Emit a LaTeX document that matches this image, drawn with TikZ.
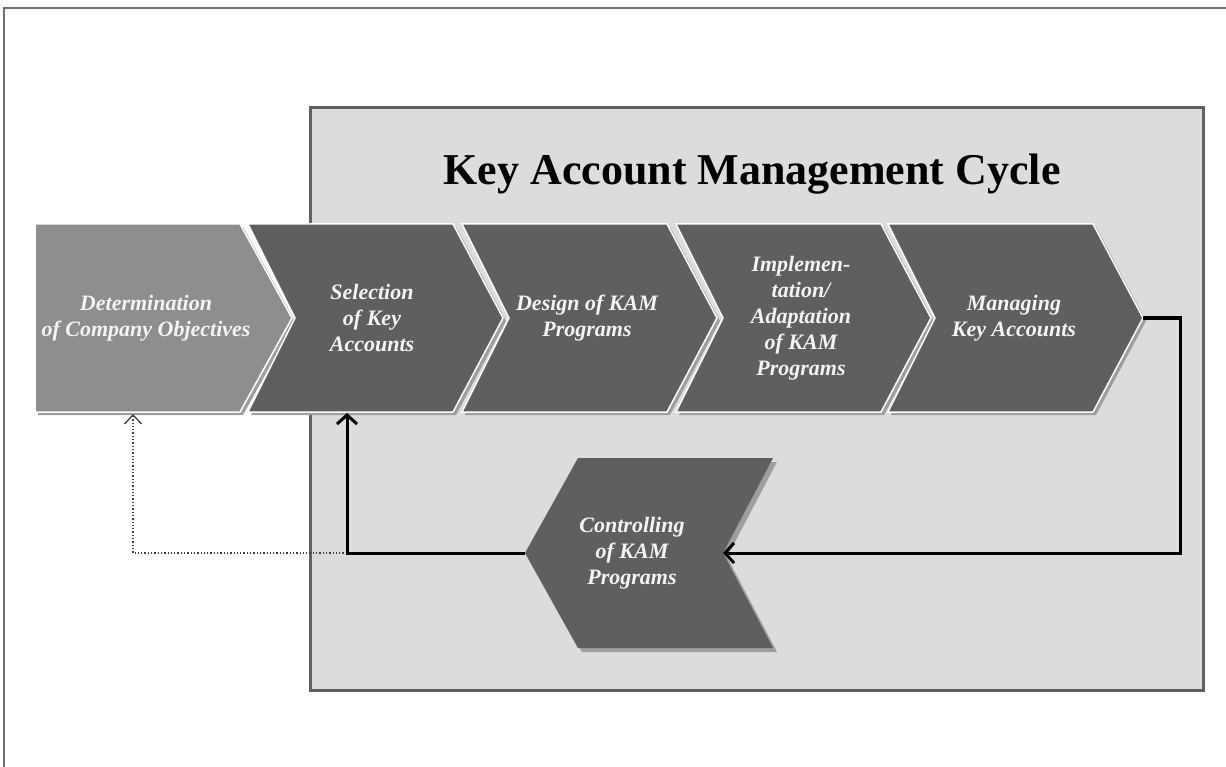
\documentclass[tikz,border=0pt]{standalone}
\usepackage{fontspec}
\setmainfont{Liberation Serif}
\usetikzlibrary{arrows.meta}
\definecolor{boxgray}{HTML}{DCDCDC}
\definecolor{framegray}{HTML}{606060}
\definecolor{outergray}{HTML}{707070}
\definecolor{chev}{HTML}{5F5F5F}
\definecolor{chevlight}{HTML}{8E8E8E}
\definecolor{shad}{HTML}{9E9E9E}
\definecolor{txt}{HTML}{F4F4F4}
\newcommand\kamchev[2]{%
  \fill[shad] (#1+3,227) -- (#1+208,227) -- (#1+258,321) -- (#1+208,415) -- (#1+3,415) -- (#1+50,321) -- cycle;
  \draw[fill=#2, draw=white, line width=1.5pt] (#1,224) -- (#1+205,224) -- (#1+255,318) -- (#1+205,412) -- (#1,412) -- (#1+47,318) -- cycle;
}
\begin{document}
\begin{tikzpicture}[x=1pt,y=-1pt,
  lbl/.style={text=txt, font=\fontsize{22}{26}\selectfont\bfseries\itshape, align=center},
  flow/.style={line width=3pt, -{Straight Barb[length=9pt,width=20pt]}},
  feedback/.style={line width=1.3pt, dotted, draw=black!75, -{Straight Barb[length=9pt,width=17pt]}},
]
\useasboundingbox (0,0) rectangle (1226,767);
\fill[white] (0,0) rectangle (1226,767);
% outer frame
\draw[outergray, line width=2pt] (4,767) -- (4,8) -- (1226,8);
% cycle box
\draw[fill=boxgray, draw=framegray, line width=3pt] (310,108) rectangle (1203,690);
\node[font=\fontsize{44}{52}\selectfont\bfseries] (title) at (752,174) {Key Account Management Cycle};
% first chevron (flat left)
\fill[shad] (38,227) -- (243,227) -- (295,321) -- (243,415) -- (38,415) -- cycle;
\draw[fill=chevlight, draw=white, line width=1.5pt] (35,224) -- (240,224) -- (292,318) -- (240,412) -- (35,412) -- cycle;
% process chevrons
\kamchev{248}{chev}
\kamchev{462}{chev}
\kamchev{676}{chev}
\kamchev{888}{chev}
% controlling chevron (points left)
\fill[shad] (582,462) -- (777,462) -- (727,557) -- (777,652) -- (582,652) -- (529,557) -- cycle;
\fill[chev] (578,458) -- (773,458) -- (723,553) -- (773,648) -- (578,648) -- (525,553) -- cycle;
% labels
\node[lbl] (det) at (146,318) {Determination\\of Company Objectives};
\node[lbl] (sel) at (372,318) {Selection\\of Key\\Accounts};
\node[lbl] (des) at (587,318) {Design of KAM\\Programs};
\node[lbl] (imp) at (801,318) {Implemen-\\tation/\\Adaptation\\of KAM\\Programs};
\node[lbl] (man) at (1014,318) {Managing\\Key Accounts};
\node[lbl] (ctl) at (632,553) {Controlling\\of KAM\\Programs};
% connector anchors
\coordinate (mantip) at (1143,318);
\coordinate (ctlnotch) at (723,553);
\coordinate (ctltip) at (525,553);
\coordinate (selbot) at (347,413);
\coordinate (detbot) at (133,414);
\coordinate (junction) at (347,553);
% connectors
\draw[feedback] (junction) -| (detbot);
\draw[flow] (mantip) -- (1180,318) |- (ctlnotch);
\draw[flow] (ctltip) -| (selbot);
\end{tikzpicture}
\end{document}
